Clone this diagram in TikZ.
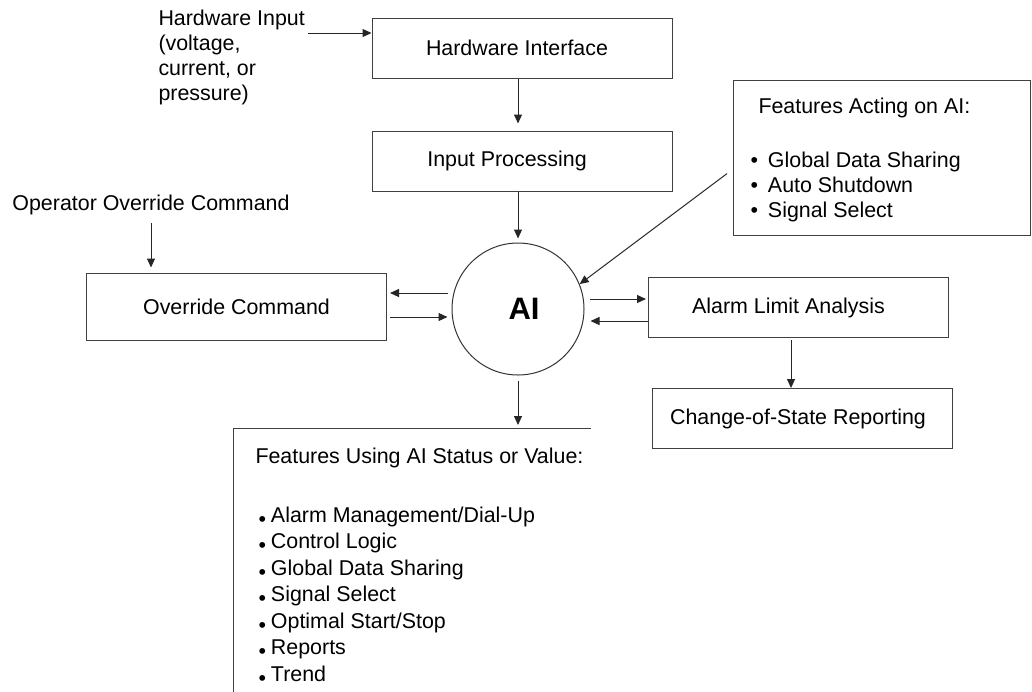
\documentclass[tikz,border=0pt]{standalone}
\usepackage{fontspec}
\setmainfont{Liberation Sans}
\usetikzlibrary{arrows.meta,positioning,calc}
\newcommand{\acbul}{•\hspace{5pt}}
\newcommand{\lowbul}{\raisebox{-2.2pt}{•}\hspace{2.5pt}}

\begin{document}
\begin{tikzpicture}
[x=0.5pt, y=-0.5pt, node distance=26pt, font=\fontsize{10.7}{12.5}\selectfont,
 >={Triangle[length=4.5pt,width=4pt]}, line width=0.5pt]
\tikzstyle{box}=[draw=black!75, minimum width=150pt, minimum height=30pt, inner sep=0pt]
\tikzstyle{txt}=[align=left, inner sep=0pt]
\tikzstyle{arr}=[->, draw=black!85]

\useasboundingbox (0,0) rectangle (1032,691);

\node[box]	(hwif)	at (522,48) {\hspace*{-5pt}Hardware Interface};
\node[box]	(inproc)	[below=of hwif] {\hspace*{-15pt}Input Processing};
\node[circle, draw=black!80, minimum size=66pt, inner sep=0pt,
      font=\fontsize{15.5}{17}\selectfont\bfseries]	(ai)	at (518,309) {\hspace*{6pt}AI};
\node[box, minimum height=33.5pt]	(ovr)	at (236.5,306.5) {Override Command};
\node[box]	(alarm)	at (798.5,307.5) {\hspace*{-10pt}Alarm Limit Analysis};
\node[box]	(cos)	[below=25pt of alarm, xshift=1.75pt] {\hspace*{-4pt}Change-of-State Reporting};

\node[txt]	(hwin)	[anchor=west] at (158,57.5) {Hardware Input\\(voltage,\\current, or\\pressure)};
\node[txt]	(opov)	at (151,205) {Operator Override Command};

% features acting on AI
\node[draw=black!75, minimum width=148.5pt, minimum height=77.5pt, inner sep=0pt,
      anchor=north west]	(acting)	at (733,80) {};
\node[txt]	(actingtitle)	[anchor=north west] at ([xshift=12.5pt,yshift=-8.5pt]acting.north west) {Features Acting on AI:};
\node[txt]	(actinglist)	[anchor=north west] at ([xshift=8.5pt,yshift=-35.5pt]acting.north west)
	{\acbul Global Data Sharing\\ \acbul Auto Shutdown\\ \acbul Signal Select};

% features using AI status or value
\node[minimum width=178.5pt, minimum height=150pt, inner sep=0pt, anchor=north west]	(using)	at (233,428) {};
\draw[draw=black!75] (using.north east) -- (using.north west) -- (using.south west);
\node[txt]	(usingtitle)	[anchor=north west] at ([xshift=11pt,yshift=-9.75pt]using.north west) {Features Using AI Status or Value:};
\node[txt, font=\fontsize{10.7}{13.25}\selectfont]	(usinglist)	[anchor=north west] at ([xshift=12.5pt,yshift=-39pt]using.north west)
	{\lowbul Alarm Management/Dial-Up\\ \lowbul Control Logic\\ \lowbul Global Data Sharing\\ \lowbul Signal Select\\
	 \lowbul Optimal Start/Stop\\ \lowbul Reports\\ \lowbul Trend};

\coordinate (hwinend) at ($(hwif.west)+(0,-15)$);
\draw[arr] ($(hwinend -| hwin.east)+(3,0)$) -- (hwinend);
\draw[arr, shorten >=3.5pt] (hwif.south -| ai.north) -- (inproc.north -| ai.north);
\draw[arr, shorten >=2pt] (inproc.south -| ai.north) -- (ai.north);
\draw[arr, shorten <=4pt, shorten >=2.5pt] (opov.south) -- (opov.south |- ovr.north);

\coordinate (ovrA) at ($(ai.west)+(-4,-16)$);
\coordinate (ovrB) at ($(ai.west)+(-4,8)$);
\draw[arr] (ovrA) -- ($(ovrA -| ovr.east)+(3,0)$);
\draw[arr] ($(ovrB -| ovr.east)+(3,0)$) -- (ovrB);

\coordinate (almA) at ($(ai.east)+(5,-10)$);
\coordinate (almB) at ($(ai.east)+(6,12)$);
\draw[arr, shorten >=1pt] (almA) -- (almA -| alarm.west);
\draw[arr] (almB -| alarm.west) -- (almB);
\coordinate (almC) at ($(alarm.south)+(-7.5,0)$);
\draw[arr, shorten <=1pt] (almC) -- (almC |- cos.north);

\coordinate (actin) at ($(acting.north west)!0.6!(acting.south west)$);
\draw[arr] ($(actin)+(-6,0)$) -- (ai.22);
\draw[arr, shorten <=2.5pt, shorten >=1.5pt] (ai.south) -- (ai.south |- using.north);

\end{tikzpicture}
\end{document}
